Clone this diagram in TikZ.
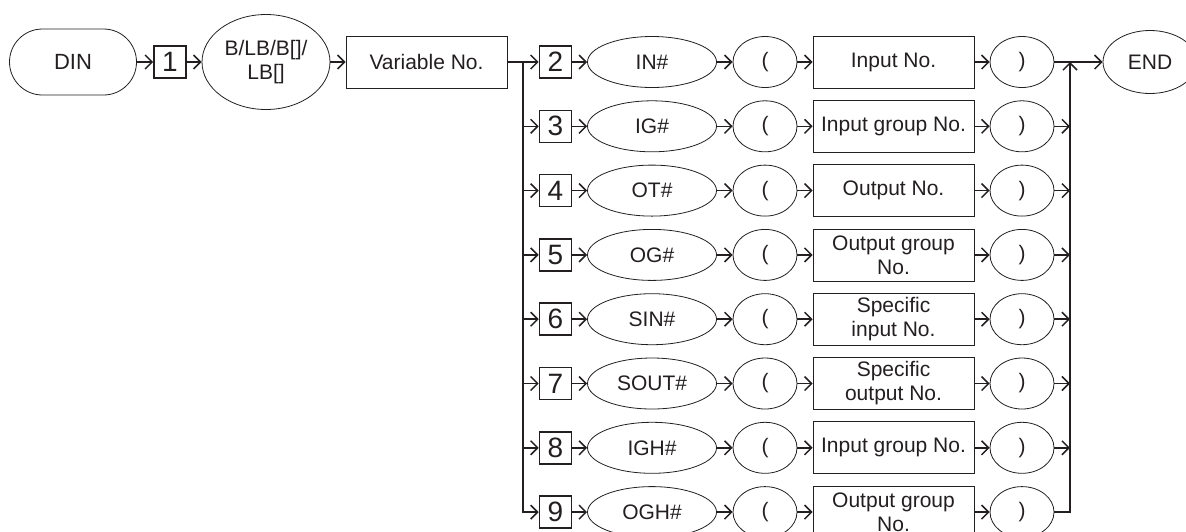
\documentclass[tikz,border=0pt]{standalone}
\usepackage{fontspec}
\setmainfont{Liberation Sans}
\usepackage{tikz}
\usetikzlibrary{positioning, shapes.geometric, arrows.meta}
\definecolor{lineColor}{RGB}{35,31,32}
\tikzstyle{diagram} = [x = 0.5pt, y = -0.5pt, font=\fontsize{10.5}{12}\selectfont, text=lineColor, every node/.style={inner sep=0pt}]
\tikzstyle{shapeStyle} = [draw=lineColor, line width=0.4pt, align=center]
\tikzstyle{numberBox} = [shapeStyle, line width=0.8pt, minimum width=16pt, minimum height=16pt, font=\fontsize{14}{14}\selectfont]
\tikzstyle{wordEllipse} = [shapeStyle, ellipse, minimum width=64.5pt, minimum height=25.5pt]
\tikzstyle{bracketEllipse} = [shapeStyle, ellipse, minimum width=32pt, minimum height=25.5pt]
\tikzstyle{valueBox} = [shapeStyle, rectangle, minimum width=80.5pt, minimum height=26pt]
\tikzstyle{link} = [draw=lineColor, line width=0.75pt]
\tikzstyle{linkArrow} = [link, -{Straight Barb[length=3.5pt, width=7pt]}]
\newcommand{\syntaxRow}[3]{
  \pgfmathsetmacro{\yRow}{62 + 64.3 * (#1 - 2)}
  \node [numberBox] (box#1) at (555.5, \yRow) {#1};
  \node [wordEllipse] (word#1) at (652, \yRow) {#2};
  \node [bracketEllipse] (open#1) at (765, \yRow) {(};
  \node [valueBox] (value#1) at (893.5, \yRow) {#3};
  \node [bracketEllipse] (close#1) at (1022, \yRow) {)};
  \draw [linkArrow] (box#1) -- (word#1);
  \draw [linkArrow] (word#1) -- (open#1);
  \draw [linkArrow] (open#1) -- (value#1);
  \draw [linkArrow] (value#1) -- (close#1);
}

\begin{document}
\begin{tikzpicture}[diagram]
  \useasboundingbox (0,0) rectangle (1186,531);
  \clip (0,0) rectangle (1186,531);
  % head of the statement
  \node [shapeStyle, rounded corners=16.5pt, minimum width=63.5pt, minimum height=33pt, font=\fontsize{11}{12}\selectfont] (din) at (73,62) {DIN};
  \node [numberBox] (boxOne) at (170,62) {1};
  \node [shapeStyle, ellipse, minimum width=64pt, minimum height=47.5pt] (varType) at (266,62) {B/LB/B[]/\\LB[]};
  \node [valueBox] (varNo) at (426.5,62) {Variable No.};
  \node [shapeStyle, ellipse, minimum width=47pt, minimum height=31.5pt] (endNode) at (1150,62) {END};
  \draw [linkArrow] (din) -- (boxOne);
  \draw [linkArrow] (boxOne) -- (varType);
  \draw [linkArrow] (varType) -- (varNo);

  % one row per signal type
  \foreach \num/\word/\value in {2/IN\#/Input No., 3/IG\#/Input group No., 4/OT\#/Output No.,
      5/OG\#/{Output group\\No.}, 6/SIN\#/{Specific\\input No.}, 7/SOUT\#/{Specific\\output No.},
      8/IGH\#/Input group No., 9/OGH\#/{Output group\\No.}} {
    \syntaxRow{\num}{\word}{\value}
  }

  % branches
  \coordinate (splitLeft) at (523,62);
  \coordinate (joinRight) at (1070,62);
  \draw [linkArrow] (varNo) -- (box2);
  \draw [linkArrow] (splitLeft) |- (box9);
  \draw [linkArrow] (close2) -- (endNode);
  \draw [linkArrow] (close9) -| (joinRight);
  \foreach \num in {3,...,8} {
    \draw [linkArrow] (splitLeft |- box\num.west) -- (box\num);
    \draw [linkArrow] (close\num) -- (close\num -| joinRight);
  }
\end{tikzpicture}
\end{document}
